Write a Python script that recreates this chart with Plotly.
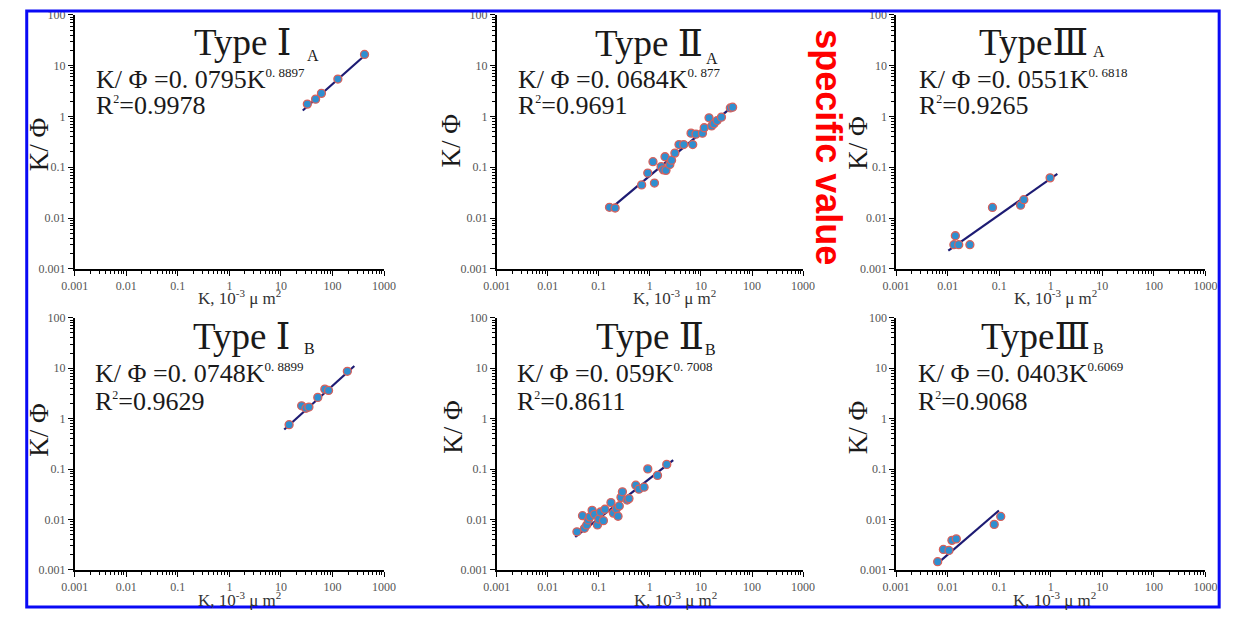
import plotly.graph_objects as go

W, H = 1239, 618

# ---------------- data ----------------
type1a_k = [32.5, 47, 61, 127, 418]
type1a_r = [1.75, 2.19, 2.85, 5.44, 16.6]
type1a_fit_k = [26.5, 483]
type1a_fit_r = [1.31, 17.9]

type2a_k = [0.162, 0.209, 0.69, 0.91, 1.23, 1.15, 1.66, 1.84, 2.07, 1.98, 2.46, 2.66, 3.09, 3.72,
            4.6, 6.4, 6.9, 8.0, 10.7, 11.6, 14.4, 16.2, 18.0, 20.8, 25.2, 37.6, 41.7]
type2a_r = [0.0163, 0.0158, 0.045, 0.077, 0.049, 0.129, 0.103, 0.089, 0.087, 0.161, 0.114, 0.138,
            0.19, 0.28, 0.28, 0.47, 0.28, 0.45, 0.47, 0.60, 0.94, 0.65, 0.72, 0.83, 0.97, 1.47, 1.52]
type2a_fit_k = [0.155, 46.9]
type2a_fit_r = [0.0142, 1.75]

type3a_k = [0.0132, 0.0141, 0.0164, 0.027, 0.074, 0.26, 0.30, 0.97]
type3a_r = [0.0030, 0.0045, 0.0030, 0.0030, 0.0162, 0.018, 0.023, 0.062]
type3a_fit_k = [0.0103, 1.34]
type3a_fit_r = [0.0023, 0.074]

type1b_k = [14.4, 25.2, 30.6, 34.9, 51.8, 71, 83.8, 194]
type1b_r = [0.76, 1.80, 1.61, 1.70, 2.64, 3.85, 3.63, 8.7]
type1b_fit_k = [11.6, 265]
type1b_fit_r = [0.61, 11.1]

type2b_k = [0.0373, 0.048, 0.0524, 0.058, 0.0625, 0.067, 0.074, 0.0826, 0.094, 0.10, 0.108, 0.123,
            0.132, 0.173, 0.193, 0.221, 0.238, 0.252, 0.272, 0.29, 0.359, 0.39, 0.53, 0.61, 0.77,
            0.91, 1.41, 2.14]
type2b_r = [0.0057, 0.0119, 0.0067, 0.0078, 0.0098, 0.0113, 0.0152, 0.0127, 0.0078, 0.0102, 0.0141,
            0.0095, 0.016, 0.0217, 0.0134, 0.0164, 0.0116, 0.0186, 0.0275, 0.0355, 0.0243, 0.026,
            0.048, 0.040, 0.0438, 0.101, 0.075, 0.124]
type2b_fit_k = [0.0346, 2.86]
type2b_fit_r = [0.0045, 0.15]

type3b_k = [0.0064, 0.00826, 0.0106, 0.0121, 0.0147, 0.080, 0.107]
type3b_r = [0.00146, 0.00255, 0.00244, 0.00386, 0.00413, 0.0080, 0.0115]
type3b_fit_k = [0.0059, 0.0986]
type3b_fit_r = [0.00126, 0.0151]

type_names = ["Type Ⅰ", "Type Ⅱ", "TypeⅢ", "Type Ⅰ", "Type Ⅱ", "TypeⅢ"]
type_subs = ["A", "A", "A", "B", "B", "B"]
eq_coef = ["0. 0795", "0. 0684", "0. 0551", "0. 0748", "0. 059", "0. 0403"]
eq_exp = ["0. 8897", "0. 877", "0. 6818", "0. 8899", "0. 7008", "0.6069"]
r2_vals = ["0.9978", "0.9691", "0.9265", "0.9629", "0.8611", "0.9068"]

x_tick_vals = [0.001, 0.01, 0.1, 1, 10, 100, 1000]
x_tick_text = ["0.001", "0.01", "0.1", "1", "10", "100", "1000"]
y_tick_vals = [0.001, 0.01, 0.1, 1, 10, 100]
y_tick_text = ["0.001", "0.01", "0.1", "1", "10", "100"]

x_title = "K, 10<sup><span style='font-size:11px'>-3</span></sup> μ m<sup><span style='font-size:11px'>2</span></sup>"
y_title = "K/ Φ"
side_note = "specific value"

# ---------------- layout geometry (pixels) ----------------
col_left = [62, 493, 901]
col_right = [378, 806, 1217]
row_top = [8, 318]
row_bot = [268, 576]

# text positions (pixels), one per panel
title_x = [182, 591, 984, 181, 592, 986]
title_y = [36, 37, 36, 337, 337, 337]
sub_x = [297, 705, 1100, 294, 704, 1100]
sub_y = [50, 53, 46, 349, 350, 349]
eq_x = [82, 513, 922, 81, 512, 921]
eq_y = [74, 74, 74, 375, 375, 375]
r2_y = [101, 101, 101, 404, 404, 404]
ytitle_x = [25, 446, 862, 26, 449, 862]
ytitle_y = [140, 137, 139, 432, 430, 430]
xtitle_x = [230, 675, 1064, 230, 676, 1063]
xtitle_y = [297, 297, 297, 606, 606, 606]

SERIF = "Liberation Serif, Times New Roman, DejaVu Serif, serif"

panels = [
    (type1a_k, type1a_r, type1a_fit_k, type1a_fit_r),
    (type2a_k, type2a_r, type2a_fit_k, type2a_fit_r),
    (type3a_k, type3a_r, type3a_fit_k, type3a_fit_r),
    (type1b_k, type1b_r, type1b_fit_k, type1b_fit_r),
    (type2b_k, type2b_r, type2b_fit_k, type2b_fit_r),
    (type3b_k, type3b_r, type3b_fit_k, type3b_fit_r),
]

minor_x = [m * 10 ** e for e in range(-3, 3) for m in range(2, 10)]
minor_y = [m * 10 ** e for e in range(-3, 2) for m in range(2, 10)]


def px(x):
    return x / W


def py(y):
    return 1 - y / H


fig = go.Figure()
layout = dict(
    width=W, height=H, margin=dict(l=0, r=0, t=0, b=0),
    paper_bgcolor="white", plot_bgcolor="white", showlegend=False,
    font=dict(family=SERIF, color="#222"),
)
annotations = []

for i, (kx, ky, fk, fr) in enumerate(panels):
    r, c = divmod(i, 3)
    n = "" if i == 0 else str(i + 1)
    xa, ya = "x" + n, "y" + n
    fig.add_trace(go.Scatter(
        x=fk, y=fr, mode="lines", xaxis=xa, yaxis=ya,
        line=dict(color="#1d1b73", width=2.2), hoverinfo="skip"))
    fig.add_trace(go.Scatter(
        x=kx, y=ky, mode="markers", xaxis=xa, yaxis=ya,
        marker=dict(size=8, color="#2f8fd0", line=dict(color="#d9605a", width=1.3))))

    layout["xaxis" + n] = dict(
        domain=[px(col_left[c]), px(col_right[c])], anchor=ya, type="log", range=[-3, 3],
        showline=True, linecolor="black", linewidth=1.5, showgrid=False, zeroline=False,
        tickmode="array", tickvals=x_tick_vals, ticktext=x_tick_text,
        ticks="outside", ticklen=5, tickwidth=1.3, tickcolor="black",
        tickfont=dict(family=SERIF, size=12, color="#555"),
        minor=dict(tickmode="array", tickvals=minor_x, ticks="outside", ticklen=3,
                   tickwidth=1, tickcolor="black", showgrid=False),
        fixedrange=True,
    )
    layout["yaxis" + n] = dict(
        domain=[py(row_bot[r]), py(row_top[r])], anchor=xa, type="log", range=[-3, 2],
        showline=True, linecolor="black", linewidth=1.5, showgrid=False, zeroline=False,
        tickmode="array", tickvals=y_tick_vals, ticktext=y_tick_text,
        ticks="outside", ticklen=5, tickwidth=1.3, tickcolor="black",
        tickfont=dict(family=SERIF, size=12, color="#555"),
        minor=dict(tickmode="array", tickvals=minor_y, ticks="outside", ticklen=3,
                   tickwidth=1, tickcolor="black", showgrid=False),
        fixedrange=True,
    )

    annotations.append(dict(
        xref="paper", yref="paper", x=px(title_x[i]), y=py(title_y[i]),
        xanchor="left", yanchor="middle", showarrow=False, text=type_names[i],
        font=dict(family=SERIF, size=37, color="#1a1a1a")))
    annotations.append(dict(
        xref="paper", yref="paper", x=px(sub_x[i]), y=py(sub_y[i]),
        xanchor="left", yanchor="middle", showarrow=False, text=type_subs[i],
        font=dict(family=SERIF, size=16, color="#1a1a1a")))
    annotations.append(dict(
        xref="paper", yref="paper", x=px(eq_x[i]), y=py(eq_y[i]),
        xanchor="left", yanchor="middle", showarrow=False,
        text="K/ Φ =" + eq_coef[i] + "K<sup><span style='font-size:13px'>" + eq_exp[i] + "</span></sup>",
        font=dict(family=SERIF, size=26, color="#1a1a1a")))
    annotations.append(dict(
        xref="paper", yref="paper", x=px(eq_x[i]), y=py(r2_y[i]),
        xanchor="left", yanchor="middle", showarrow=False,
        text="R<sup><span style='font-size:12px'>2</span></sup>=" + r2_vals[i],
        font=dict(family=SERIF, size=26, color="#1a1a1a")))
    annotations.append(dict(
        xref="paper", yref="paper", x=px(ytitle_x[i]), y=py(ytitle_y[i]),
        xanchor="center", yanchor="middle", showarrow=False, text=y_title, textangle=-90,
        font=dict(family=SERIF, size=27, color="#1a1a1a")))
    annotations.append(dict(
        xref="paper", yref="paper", x=px(xtitle_x[i]), y=py(xtitle_y[i]),
        xanchor="center", yanchor="middle", showarrow=False, text=x_title,
        font=dict(family=SERIF, size=17, color="#333")))

annotations.append(dict(
    xref="paper", yref="paper", x=px(832), y=py(143), xanchor="center", yanchor="middle",
    showarrow=False, text="<b>" + side_note + "</b>", textangle=90,
    font=dict(family="Liberation Sans, Arial, sans-serif", size=36, color="#ff0000")))

layout["annotations"] = annotations
layout["shapes"] = [dict(
    type="rect", xref="paper", yref="paper", x0=px(13), x1=px(1231), y0=py(614), y1=py(4),
    line=dict(color="#0a0af5", width=3), fillcolor="rgba(0,0,0,0)", layer="above")]

fig.update_layout(**layout)
fig.write_html("out.html", config={"displayModeBar": False},
               post_script="document.body.style.margin='0px';document.body.style.overflow='hidden';")
